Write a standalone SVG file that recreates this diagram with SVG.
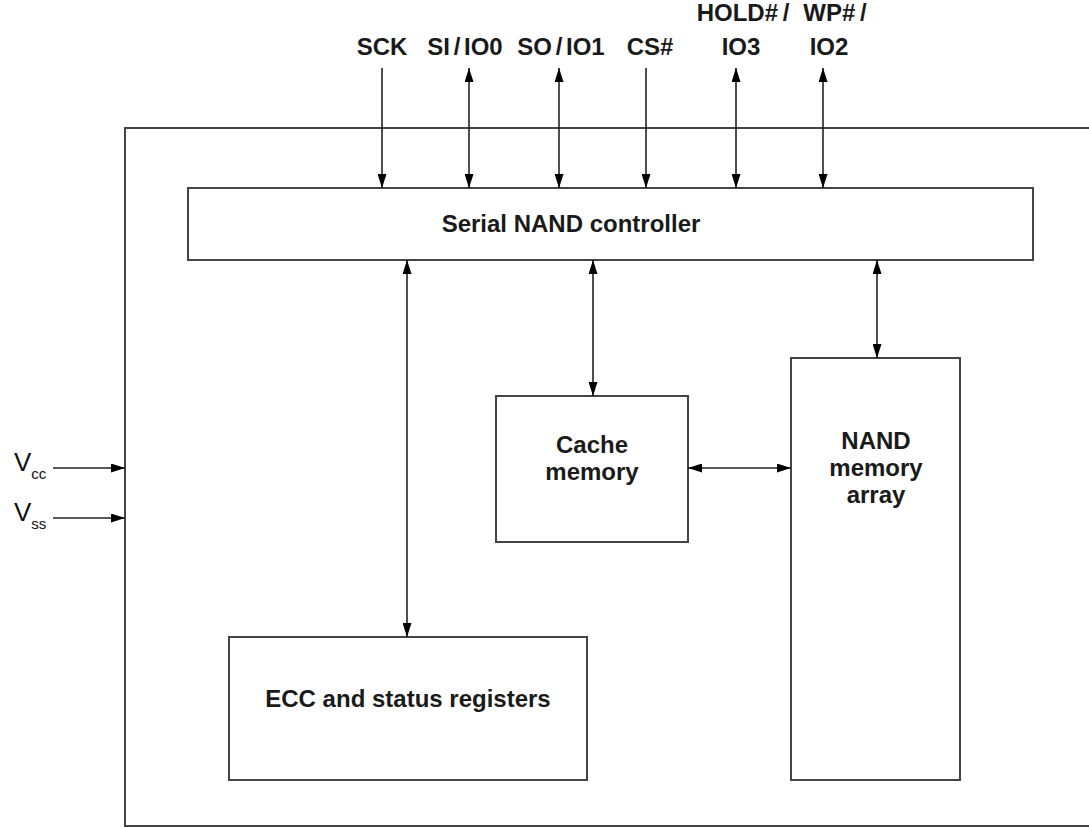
<svg xmlns="http://www.w3.org/2000/svg" width="1089" height="827" viewBox="0 0 1089 827">
<style>
.box{fill:#fff;stroke:#444;stroke-width:2}
.ln{stroke:#222;stroke-width:1.6;fill:none}
.t{font-family:"Liberation Sans",Arial,sans-serif;font-size:24px;font-weight:bold;fill:#1a1a1a;text-anchor:middle}
.v{font-family:"Liberation Sans",Arial,sans-serif;font-size:26px;fill:#111}
.s{font-size:15px}
</style>
<defs>
<marker id="ah" viewBox="0 0 14 9" refX="14" refY="4.5" markerWidth="14" markerHeight="9" markerUnits="userSpaceOnUse" orient="auto-start-reverse">
<path d="M0,0 L14,4.5 L0,9 Z" fill="#000"/>
</marker>
</defs>
<rect width="1089" height="827" fill="#fff"/>
<g id="chip">
<path d="M1089,128 L125,128 L125,826 L1089,826" class="box" fill="none"/>
</g>
<g id="controller">
<rect x="188" y="188" width="845" height="72" class="box"/>
<text x="571" y="232" class="t">Serial NAND controller</text>
</g>
<g id="cache">
<rect x="496" y="396" width="192" height="146" class="box"/>
<text x="592" y="453" class="t">Cache</text>
<text x="592" y="480" class="t">memory</text>
</g>
<g id="nand">
<rect x="791" y="358" width="169" height="422" class="box"/>
<text x="876" y="449" class="t">NAND</text>
<text x="876" y="476" class="t">memory</text>
<text x="876" y="503" class="t">array</text>
</g>
<g id="ecc">
<rect x="229" y="637" width="358" height="143" class="box"/>
<text x="408" y="707" class="t">ECC and status registers</text>
</g>
<g id="labels">
<text x="382" y="55" class="t">SCK</text>
<text x="465" y="55" class="t" word-spacing="-3">SI / IO0</text>
<text x="561" y="55" class="t" word-spacing="-3">SO / IO1</text>
<text x="650" y="55" class="t">CS#</text>
<text x="743" y="21" class="t" word-spacing="-2">HOLD# /</text>
<text x="741" y="55" class="t">IO3</text>
<text x="835" y="21" class="t" word-spacing="-2">WP# /</text>
<text x="829" y="55" class="t">IO2</text>
<text x="14" y="471" class="v">V<tspan class="s" dy="8">cc</tspan></text>
<text x="14" y="521" class="v">V<tspan class="s" dy="8">ss</tspan></text>
</g>
<g id="connectors">
<line x1="382" y1="68" x2="382" y2="188" class="ln" marker-end="url(#ah)"/>
<line x1="469" y1="68" x2="469" y2="188" class="ln" marker-start="url(#ah)" marker-end="url(#ah)"/>
<line x1="559" y1="68" x2="559" y2="188" class="ln" marker-start="url(#ah)" marker-end="url(#ah)"/>
<line x1="646" y1="68" x2="646" y2="188" class="ln" marker-end="url(#ah)"/>
<line x1="736" y1="68" x2="736" y2="188" class="ln" marker-start="url(#ah)" marker-end="url(#ah)"/>
<line x1="823" y1="68" x2="823" y2="188" class="ln" marker-start="url(#ah)" marker-end="url(#ah)"/>
<line x1="407" y1="260" x2="407" y2="637" class="ln" marker-start="url(#ah)" marker-end="url(#ah)"/>
<line x1="593" y1="260" x2="593" y2="396" class="ln" marker-start="url(#ah)" marker-end="url(#ah)"/>
<line x1="877" y1="260" x2="877" y2="358" class="ln" marker-start="url(#ah)" marker-end="url(#ah)"/>
<line x1="688" y1="468" x2="791" y2="468" class="ln" marker-start="url(#ah)" marker-end="url(#ah)"/>
<line x1="53" y1="468" x2="125" y2="468" class="ln" marker-end="url(#ah)"/>
<line x1="53" y1="518" x2="125" y2="518" class="ln" marker-end="url(#ah)"/>
</g>
</svg>
